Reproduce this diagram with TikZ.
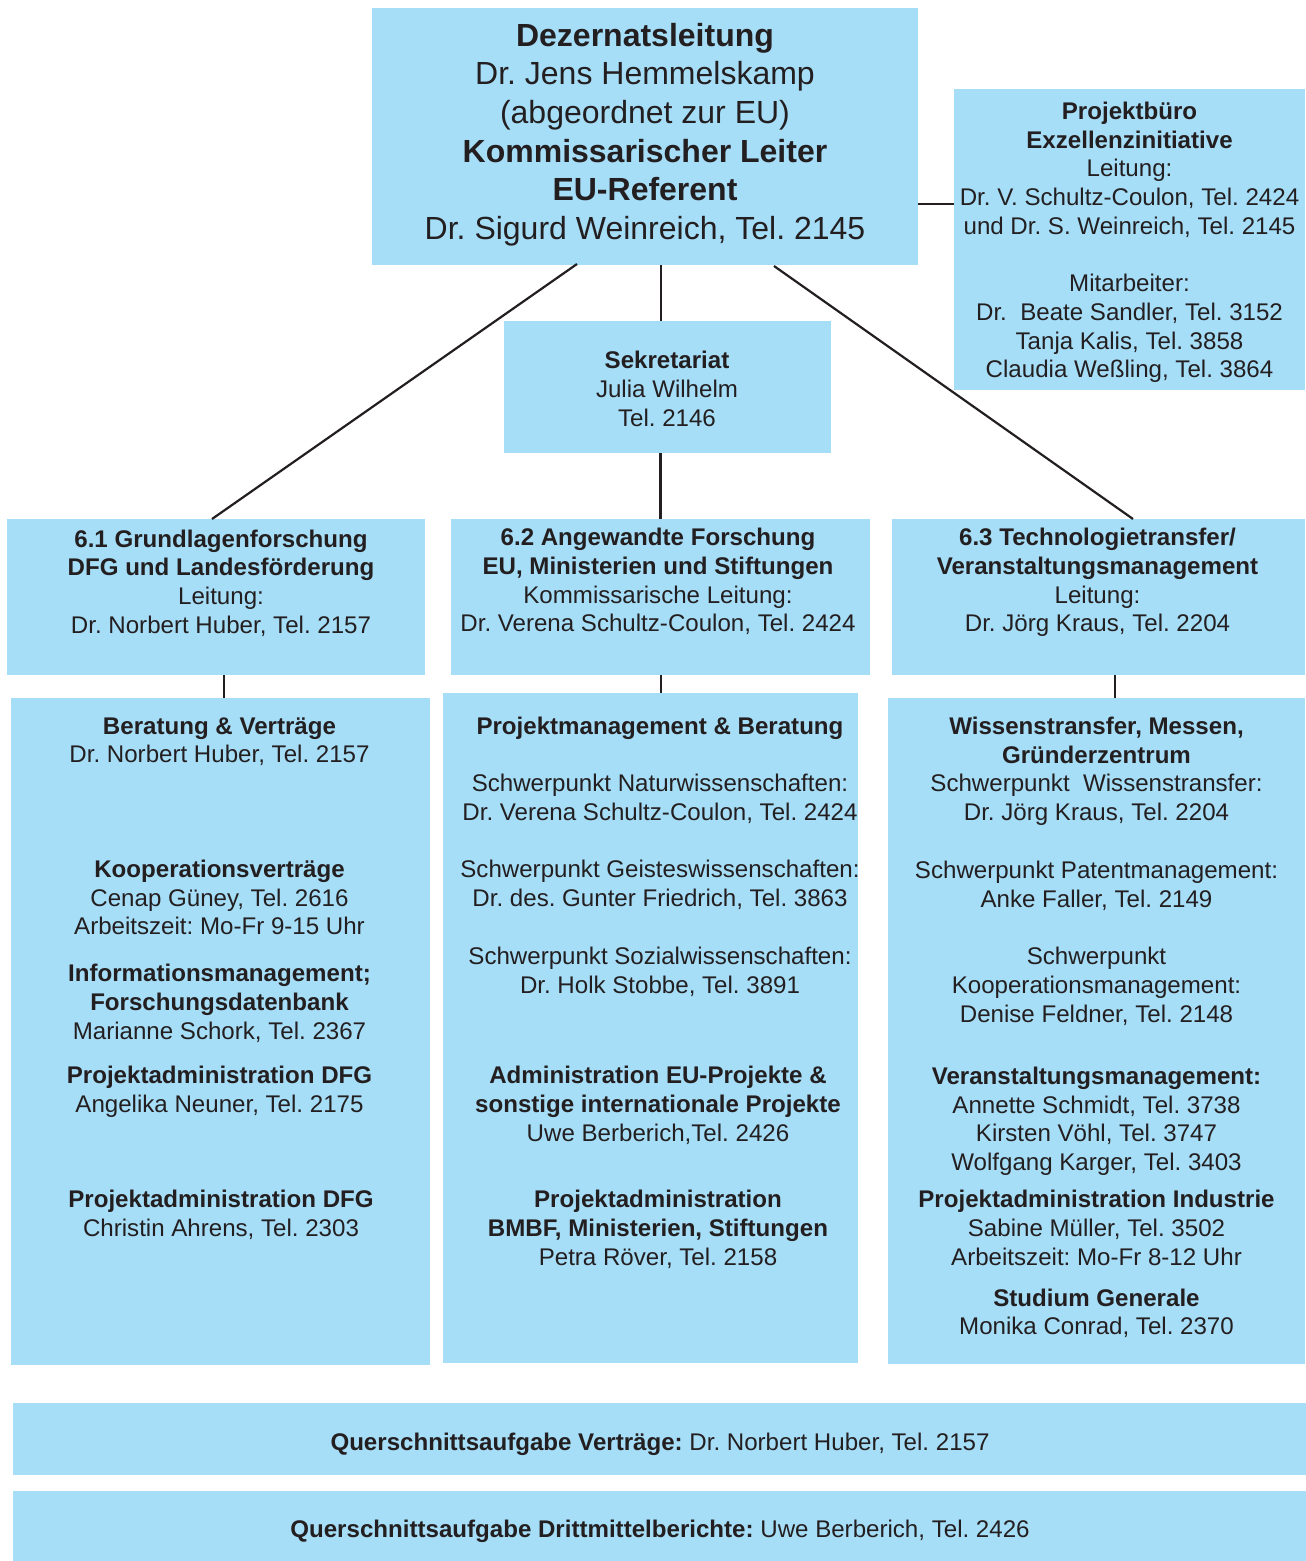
\documentclass[tikz,border=0pt]{standalone}
\usepackage{fontspec}
\setmainfont{Liberation Sans}
\usetikzlibrary{calc}
\frenchspacing
\definecolor{boxblue}{RGB}{166,221,247}
\definecolor{ink}{RGB}{35,31,32}
\newcommand\mytxt[4]{\node[txt] (#1) at (#2,{#3-20.09}) {\strut #4};}
\tikzset{
  box/.style={fill=boxblue, draw=none, inner sep=0, outer sep=0, anchor=north west},
  txt/.style={font=\fontsize{24.1}{28.7}\selectfont\frenchspacing, align=center, inner sep=0, anchor=north, text=ink},
  bigtxt/.style={font=\fontsize{32}{38.6}\selectfont\frenchspacing, align=center, inner sep=0, anchor=north, text=ink},
  conn/.style={draw=ink, line width=2.2pt}
}
\begin{document}
\begin{tikzpicture}[x=1pt,y=-1pt]
\useasboundingbox (0,0) rectangle (1306,1561);
% boxes
\node[box, minimum width=546pt, minimum height=257pt] (top) at (372,8) {};
\node[box, minimum width=351pt, minimum height=301pt] (pb) at (954,89) {};
\node[box, minimum width=327pt, minimum height=132pt] (sek) at (504,321) {};
\node[box, minimum width=418pt, minimum height=156pt] (g61) at (7,519) {};
\node[box, minimum width=419pt, minimum height=156pt] (g62) at (451,519) {};
\node[box, minimum width=413pt, minimum height=156pt] (g63) at (892,519) {};
\node[box, minimum width=419pt, minimum height=667pt] (l61) at (11,698) {};
\node[box, minimum width=415pt, minimum height=670pt] (l62) at (443,693) {};
\node[box, minimum width=417pt, minimum height=666pt] (l63) at (888,698) {};
\node[box, minimum width=1293pt, minimum height=72pt] (q1) at (13,1403) {};
\node[box, minimum width=1293pt, minimum height=70pt] (q2) at (13,1491) {};
% connectors
\draw[conn] ([yshift=-67.5pt]top.east) -- ([yshift=-67.5pt]top.east -| pb.west);
\draw[conn] ([xshift=205pt,yshift=1pt]top.south west) -- ([xshift=205pt]g61.north west);
\draw[conn] ([xshift=16pt]top.south) -- ([xshift=16pt]top.south |- sek.north);
\draw[conn] ([xshift=-7pt]sek.south) -- ([xshift=-7pt]sek.south |- g62.north);
\draw[conn] ([xshift=-144pt,yshift=-1pt]top.south east) -- ([xshift=241pt]g63.north west);
\draw[conn] ([xshift=217pt]g61.south west) -- ([xshift=217pt]g61.south west |- l61.north);
\draw[conn] ([xshift=210pt]g62.south west) -- ([xshift=210pt]g62.south west |- l62.north);
\draw[conn] ([xshift=223pt]g63.south west) -- ([xshift=223pt]g63.south west |- l63.north);
% top text
\node[bigtxt] (ttop) at (645,{46-27.02}) {\strut\textbf{Dezernatsleitung}\\
Dr. Jens Hemmelskamp\\
(abgeordnet zur EU)\\
\textbf{Kommissarischer Leiter}\\
\textbf{EU-Referent}\\
Dr. Sigurd Weinreich, Tel. 2145};
\mytxt{tpb}{1129.5}{119.3}{\textbf{Projektbüro}\\
\textbf{Exzellenzinitiative}\\
Leitung:\\
Dr. V. Schultz-Coulon, Tel. 2424\\
und Dr. S. Weinreich, Tel. 2145\\
\strut\\
Mitarbeiter:\\
Dr.\ \ Beate Sandler, Tel. 3152\\
Tanja Kalis, Tel. 3858\\
Claudia Weßling, Tel. 3864}
\mytxt{tsek}{667}{368.5}{\textbf{Sekretariat}\\
Julia Wilhelm\\
Tel. 2146}
\mytxt{t61}{221}{547}{\textbf{6.1 Grundlagenforschung}\\
\textbf{DFG und Landesförderung}\\
Leitung:\\
Dr. Norbert Huber, Tel. 2157}
\mytxt{t62}{658}{545.5}{\textbf{6.2 Angewandte Forschung}\\
\textbf{EU, Ministerien und Stiftungen}\\
Kommissarische Leitung:\\
Dr. Verena Schultz-Coulon, Tel. 2424}
\mytxt{t63}{1097.5}{545.5}{\textbf{6.3 Technologietransfer/}\\
\textbf{Veranstaltungsmanagement}\\
Leitung:\\
Dr. Jörg Kraus, Tel. 2204}
% lower left
\mytxt{la}{219.5}{734}{\textbf{Beratung \& Verträge}\\
Dr. Norbert Huber, Tel. 2157}
\mytxt{lb}{219.5}{877.3}{\textbf{Kooperationsverträge}\\
Cenap Güney, Tel. 2616\\
Arbeitszeit: Mo-Fr 9-15 Uhr}
\mytxt{lc}{219.5}{981.7}{\textbf{Informationsmanagement;}\\
\textbf{Forschungsdatenbank}\\
Marianne Schork, Tel. 2367}
\mytxt{ld}{219.5}{1083.3}{\textbf{Projektadministration DFG}\\
Angelika Neuner, Tel. 2175}
\mytxt{le}{221}{1207.7}{\textbf{Projektadministration DFG}\\
Christin Ahrens, Tel. 2303}
% lower middle
\mytxt{ma}{660}{734.3}{\textbf{Projektmanagement \& Beratung}}
\mytxt{mb}{660}{791.5}{Schwerpunkt Naturwissenschaften:\\
Dr. Verena Schultz-Coulon, Tel. 2424}
\mytxt{mc}{660}{877.5}{Schwerpunkt Geisteswissenschaften:\\
Dr. des. Gunter Friedrich, Tel. 3863}
\mytxt{md}{660}{964.5}{Schwerpunkt Sozialwissenschaften:\\
Dr. Holk Stobbe, Tel. 3891}
\mytxt{me}{658}{1083.5}{\textbf{Administration EU-Projekte \&}\\
\textbf{sonstige internationale Projekte}\\
Uwe Berberich,Tel. 2426}
\mytxt{mf}{658}{1207.5}{\textbf{Projektadministration}\\
\textbf{BMBF, Ministerien, Stiftungen}\\
Petra Röver, Tel. 2158}
% lower right
\mytxt{ra}{1096.5}{734.3}{\textbf{Wissenstransfer, Messen,}\\
\textbf{Gründerzentrum}\\
Schwerpunkt\ \ Wissenstransfer:\\
Dr. Jörg Kraus, Tel. 2204}
\mytxt{rb}{1096.5}{878.3}{Schwerpunkt Patentmanagement:\\
Anke Faller, Tel. 2149}
\mytxt{rc}{1096.5}{964.5}{Schwerpunkt\\
Kooperationsmanagement:\\
Denise Feldner, Tel. 2148}
\mytxt{rd}{1096.5}{1084.3}{\textbf{Veranstaltungsmanagement:}\\
Annette Schmidt, Tel. 3738\\
Kirsten Vöhl, Tel. 3747\\
Wolfgang Karger, Tel. 3403}
\mytxt{re}{1096.5}{1207.7}{\textbf{Projektadministration Industrie}\\
Sabine Müller, Tel. 3502\\
Arbeitszeit: Mo-Fr 8-12 Uhr}
\mytxt{rf}{1096.5}{1306}{\textbf{Studium Generale}\\
Monika Conrad, Tel. 2370}
% bottom
\mytxt{tq1}{660}{1450.5}{\textbf{Querschnittsaufgabe Verträge:} Dr. Norbert Huber, Tel. 2157}
\mytxt{tq2}{660}{1537.5}{\textbf{Querschnittsaufgabe Drittmittelberichte:} Uwe Berberich, Tel. 2426}
\end{tikzpicture}
\end{document}
